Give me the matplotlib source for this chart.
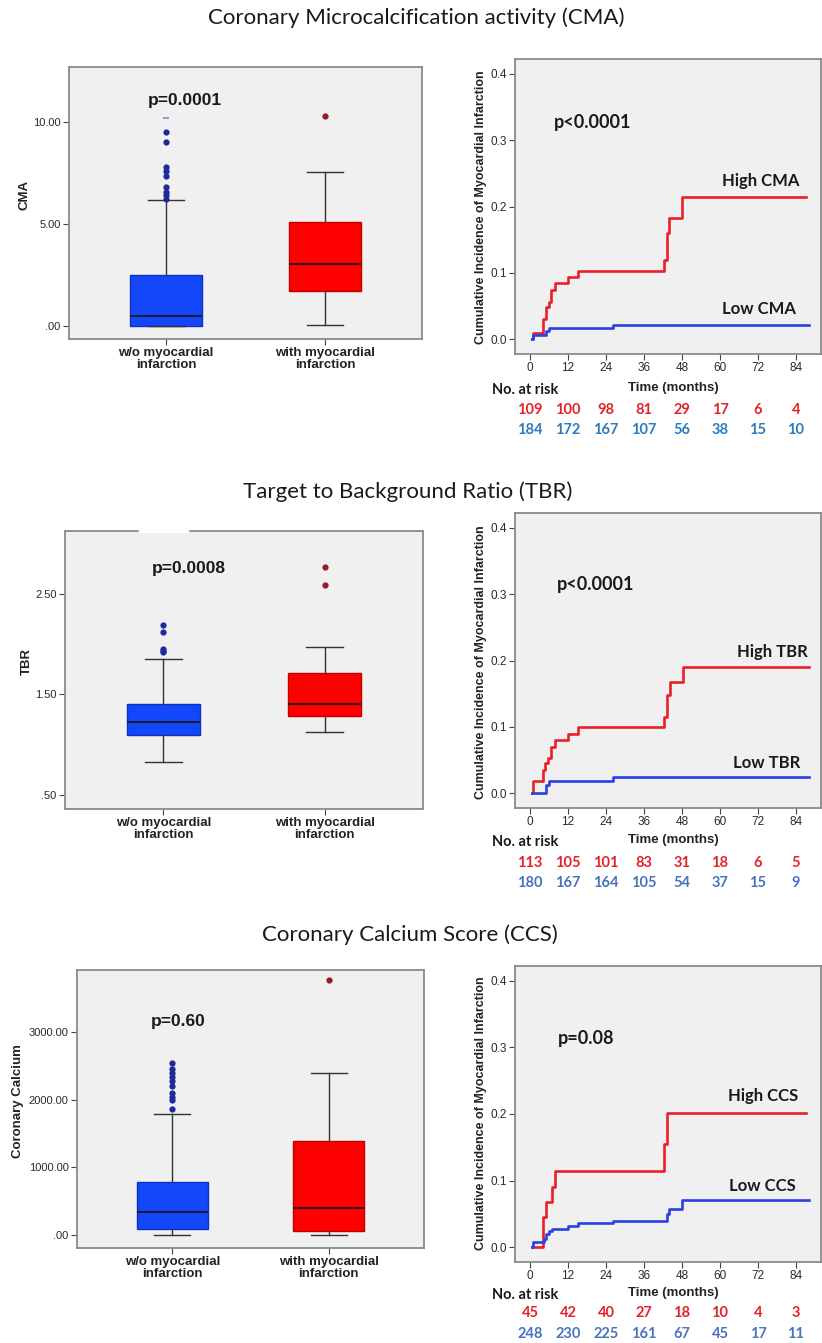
import matplotlib
matplotlib.use("Agg")
import matplotlib.pyplot as plt
from matplotlib.transforms import blended_transform_factory
from matplotlib.lines import Line2D

# ---------------- DATA ----------------
titles = ["Coronary Microcalcification activity (CMA)",
          "Target to Background Ratio (TBR)",
          "Coronary Calcium Score (CCS)"]
box_categories = ["w/o myocardial\ninfarction", "with myocardial\ninfarction"]
box_ylabels = ["CMA", "TBR", "Coronary Calcium"]
box_pvalues = ["p=0.0001", "p=0.0008", "p=0.60"]

# [whislo, q1, median, q3, whishi]
cma_wo = [0.0, 0.0, 0.49, 2.48, 6.14]
cma_wo_out = [6.22, 6.4, 6.55, 6.8, 7.36, 7.6, 7.77, 9.02, 9.5]
cma_wo_extreme = [10.2]
cma_with = [0.03, 1.69, 3.05, 5.07, 7.52]
cma_with_out = [10.29]

tbr_wo = [0.833, 1.10, 1.223, 1.407, 1.85]
tbr_wo_out = [1.917, 1.935, 1.95, 2.117, 2.19]
tbr_with = [1.127, 1.29, 1.407, 1.717, 1.97]
tbr_with_out = [2.59, 2.767]

ccs_wo = [0.0, 84.0, 345.0, 778.0, 1788.0]
ccs_wo_out = [1857, 1995, 2044, 2103, 2200, 2280, 2330, 2389, 2448, 2537]
ccs_with = [0.0, 64.0, 404.0, 1394.0, 2399.0]
ccs_with_out = [3759]

box_yticks = [[0, 5, 10], [0.5, 1.5, 2.5], [0, 1000, 2000, 3000]]
box_yticklabels = [[".00", "5.00", "10.00"], [".50", "1.50", "2.50"],
                   [".00", "1000.00", "2000.00", "3000.00"]]

km_high_labels = ["High CMA", "High TBR", "High CCS"]
km_low_labels = ["Low CMA", "Low TBR", "Low CCS"]
km_pvalues = ["p<0.0001", "p<0.0001", "p=0.08"]
km_ticks = [0, 12, 24, 36, 48, 60, 72, 84]
km_yticks = [0.0, 0.1, 0.2, 0.3, 0.4]

cma_high_t = [0.6, 0.8, 4.0, 5.0, 6.0, 6.7, 8.0, 12.0, 15.0, 42.3, 43.2, 44.0, 48.0, 87.2]
cma_high_y = [0.0, 0.010, 0.030, 0.048, 0.056, 0.075, 0.085, 0.094, 0.103, 0.120, 0.160, 0.182, 0.215, 0.215]
cma_low_t = [0.6, 1.0, 5.0, 6.0, 26.3, 88.2]
cma_low_y = [0.0, 0.006, 0.012, 0.017, 0.022, 0.022]

tbr_high_t = [0.6, 0.8, 4.0, 4.7, 5.7, 6.7, 8.0, 12.0, 15.0, 42.3, 43.2, 44.3, 48.3, 88.0]
tbr_high_y = [0.0, 0.018, 0.035, 0.045, 0.053, 0.070, 0.080, 0.090, 0.100, 0.115, 0.148, 0.167, 0.190, 0.190]
tbr_low_t = [0.6, 5.0, 6.0, 26.3, 88.0]
tbr_low_y = [0.0, 0.013, 0.018, 0.024, 0.024]

ccs_high_t = [0.6, 4.2, 5.0, 7.0, 8.0, 42.3, 43.2, 87.2]
ccs_high_y = [0.0, 0.045, 0.068, 0.090, 0.114, 0.155, 0.202, 0.202]
ccs_low_t = [0.6, 0.8, 4.5, 5.2, 6.0, 7.0, 12.0, 15.0, 26.3, 43.2, 44.0, 48.0, 88.2]
ccs_low_y = [0.0, 0.008, 0.013, 0.020, 0.025, 0.028, 0.032, 0.036, 0.040, 0.050, 0.058, 0.071, 0.071]

cma_risk_high = [109, 100, 98, 81, 29, 17, 6, 4]
cma_risk_low = [184, 172, 167, 107, 56, 38, 15, 10]
tbr_risk_high = [113, 105, 101, 83, 31, 18, 6, 5]
tbr_risk_low = [180, 167, 164, 105, 54, 37, 15, 9]
ccs_risk_high = [45, 42, 40, 27, 18, 10, 4, 3]
ccs_risk_low = [248, 230, 225, 161, 67, 45, 17, 11]

# ---------------- STYLE / LAYOUT ----------------
W, H = 822, 1343
fig = plt.figure(figsize=(W / 100, H / 100), dpi=100)
fig.patch.set_facecolor("white")

BG = "#f0f0f0"
SPINE = "#8a8a8a"
TICKC = "#444444"
BOXBLUE = "#1446fa"
BOXRED = "#ff0000"
KMRED = "#e8202a"
KMBLUE = "#2a40e0"
RISKRED = "#e3232c"
RISKBLUE = ["#2b7bbf", "#4a72c0", "#4a72c0"]
TITLEFONT = "Lato"
SPSSFONT = "Liberation Sans"


def fy(py):
    return 1 - py / H


def add_axes(x0, y0, x1, y1):
    return fig.add_axes([x0 / W, 1 - y1 / H, (x1 - x0) / W, (y1 - y0) / H])


def style_axes(ax):
    ax.set_facecolor(BG)
    for s in ax.spines.values():
        s.set_color(SPINE)
        s.set_linewidth(1.3)
    ax.tick_params(axis="both", colors=TICKC, length=4, width=0.8, direction="out",
                   top=False, right=False, pad=2)


box_rects = [(69, 67, 422, 339), (65, 531, 423, 809), (77, 970, 424, 1248)]
box_ylims = [(-0.65, 12.68), (0.361, 3.124), (-192, 3914)]
box_p_pos = [(1.12, 11.06), (1.16, 2.75), (1.04, 3151)]
box_ylabel_x = [24, 27, 18]
box_stats_all = [(cma_wo, cma_wo_out, cma_with, cma_with_out),
                 (tbr_wo, tbr_wo_out, tbr_with, tbr_with_out),
                 (ccs_wo, ccs_wo_out, ccs_with, ccs_with_out)]

km_rects = [(515, 59, 821, 354), (515, 513, 821, 808), (515, 966, 821, 1262)]
km_curves = [(cma_high_t, cma_high_y, cma_low_t, cma_low_y),
             (tbr_high_t, tbr_high_y, tbr_low_t, tbr_low_y),
             (ccs_high_t, ccs_high_y, ccs_low_t, ccs_low_y)]
km_risks = [(cma_risk_high, cma_risk_low), (tbr_risk_high, tbr_risk_low),
            (ccs_risk_high, ccs_risk_low)]
km_high_pos = [(72.9, 0.238), (76.7, 0.213), (73.6, 0.227)]
km_low_pos = [(72.3, 0.0457), (74.8, 0.0456), (73.3, 0.0925)]
km_p_pos = [(19.9, 0.326), (20.8, 0.314), (17.7, 0.313)]
km_time_y = [388, 840, 1293]
km_risk_y = [(410, 430), (863, 883), (1313, 1334)]
km_ylabel_cy = [207, 662, 1113]
title_y = [18, 492, 935]
title_x = [416, 408, 410]

for i in range(3):
    # ---- title ----
    fig.text(title_x[i] / W, fy(title_y[i]), titles[i], ha="center", va="center",
             fontsize=16, family=TITLEFONT, color="#1a1a1a")

    # ---- box plot ----
    ax = add_axes(*box_rects[i])
    style_axes(ax)
    wo, wo_out, wi, wi_out = box_stats_all[i]
    stats = []
    for s, out in ((wo, wo_out), (wi, wi_out)):
        stats.append(dict(whislo=s[0], q1=s[1], med=s[2], q3=s[3], whishi=s[4], fliers=out))
    bp = ax.bxp(stats, positions=[1, 2], widths=0.45, patch_artist=True,
                showfliers=True,
                medianprops=dict(color="#1a1a1a", linewidth=1.3),
                whiskerprops=dict(color="#333333", linewidth=1.0),
                capprops=dict(color="#333333", linewidth=1.0),
                capwidths=0.23,
                flierprops=dict(marker="o", markersize=4.5, markeredgewidth=0))
    bp["boxes"][0].set_facecolor(BOXBLUE)
    bp["boxes"][0].set_edgecolor("#1030c0")
    bp["boxes"][1].set_facecolor(BOXRED)
    bp["boxes"][1].set_edgecolor("#c00000")
    bp["fliers"][0].set_markerfacecolor("#1c2a9a")
    bp["fliers"][1].set_markerfacecolor("#9a1a28")
    if i == 0:
        ax.plot([1] * len(cma_wo_extreme), cma_wo_extreme, linestyle="none",
                marker="_", markersize=4, color="#8090e0", markeredgewidth=1.2)
    ax.set_xlim(0.39, 2.61)
    ax.set_ylim(*box_ylims[i])
    ax.set_yticks(box_yticks[i])
    ax.set_yticklabels(box_yticklabels[i], fontsize=8, family=SPSSFONT, color="#2a2a2a")
    ax.set_xticks([1, 2])
    ax.set_xticklabels(box_categories, fontsize=9.5, fontweight="bold", family=SPSSFONT,
                       color="#222222", linespacing=0.92)
    px, py = box_p_pos[i]
    ax.text(px, py, box_pvalues[i], ha="center", va="center", fontsize=12.5,
            fontweight="bold", family=SPSSFONT, color="#1a1a1a")
    x0, y0, x1, y1 = box_rects[i]
    fig.text(box_ylabel_x[i] / W, fy((y0 + y1) / 2 - 8), box_ylabels[i], rotation=90,
             ha="center", va="center", fontsize=9.5, fontweight="bold", family=SPSSFONT,
             color="#222222")

    # ---- KM plot ----
    ax2 = add_axes(*km_rects[i])
    style_axes(ax2)
    ht, hy, lt, ly = km_curves[i]
    ax2.step(ht, hy, where="post", color=KMRED, linewidth=1.9)
    ax2.step(lt, ly, where="post", color=KMBLUE, linewidth=1.9)
    ax2.set_xlim(-4.74, 91.9)
    ax2.set_ylim(-0.022, 0.422)
    ax2.set_xticks(km_ticks)
    ax2.set_xticklabels([str(t) for t in km_ticks], fontsize=8.5, family=SPSSFONT,
                        color="#2a2a2a")
    ax2.set_yticks(km_yticks)
    ax2.set_yticklabels(["%.1f" % v for v in km_yticks], fontsize=8.5, family=SPSSFONT,
                        color="#2a2a2a")
    ax2.text(*km_high_pos[i], km_high_labels[i], ha="center", va="center", fontsize=12,
             fontweight="bold", family=TITLEFONT, color="#1a1a1a")
    ax2.text(*km_low_pos[i], km_low_labels[i], ha="center", va="center", fontsize=12,
             fontweight="bold", family=TITLEFONT, color="#1a1a1a")
    ax2.text(*km_p_pos[i], km_pvalues[i], ha="center", va="center", fontsize=13,
             fontweight="bold", family=TITLEFONT, color="#1a1a1a")
    fig.text(481 / W, fy(km_ylabel_cy[i]), "Cumulative Incidence of Myocardial Infarction",
             rotation=90, ha="center", va="center", fontsize=9, fontweight="bold",
             family=SPSSFONT, color="#222222")

    tr = blended_transform_factory(ax2.transData, fig.transFigure)
    fig.text(673 / W, fy(km_time_y[i]), "Time (months)", ha="center", va="center",
             fontsize=9.5, fontweight="bold", family=SPSSFONT, color="#222222")
    fig.text(492 / W, fy(km_time_y[i] + 2), "No. at risk", ha="left", va="center",
             fontsize=10.5, fontweight="bold", family=TITLEFONT, color="#1a1a1a")
    rh, rl = km_risks[i]
    yr, yb = km_risk_y[i]
    for t, n in zip(km_ticks, rh):
        ax2.text(t, fy(yr), str(n), transform=tr, ha="center", va="center", fontsize=10.5,
                 fontweight="bold", family=TITLEFONT, color=RISKRED)
    for t, n in zip(km_ticks, rl):
        ax2.text(t, fy(yb), str(n), transform=tr, ha="center", va="center", fontsize=10.5,
                 fontweight="bold", family=TITLEFONT, color=RISKBLUE[i])

# small white gap on top border of the TBR box plot (as in the reference)
fig.add_artist(Line2D([140 / W, 187 / W], [fy(531), fy(531)], color="white", linewidth=2.5,
                      transform=fig.transFigure))

fig.savefig("out.png", dpi=100, facecolor="white")
